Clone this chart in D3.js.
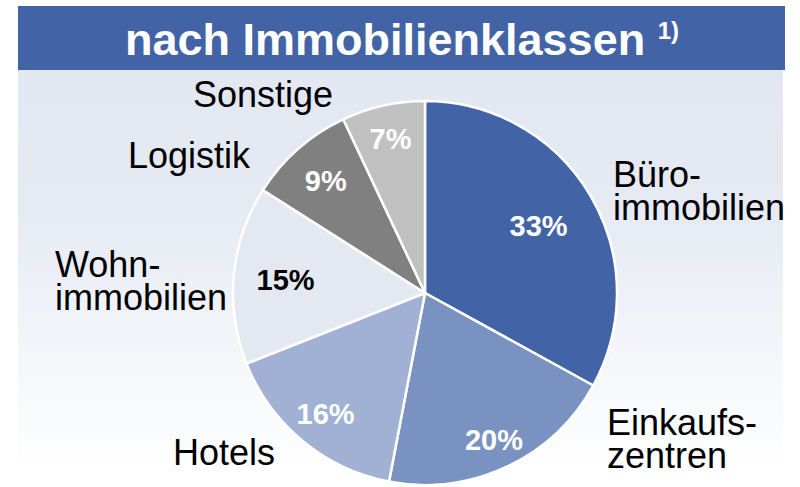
<!DOCTYPE html>
<html><head><meta charset="utf-8">
<script src="https://cdn.jsdelivr.net/npm/d3@7"></script>
<style>
html,body{margin:0;padding:0;background:#fff;}
text{font-family:"Liberation Sans",Arial,sans-serif;}
</style></head>
<body>
<svg id="chart" width="800" height="487"></svg>
<script>
const categories = ["Büroimmobilien","Einkaufszentren","Hotels","Wohnimmobilien","Logistik","Sonstige"];
const labelLines = [["Büro-","immobilien"],["Einkaufs-","zentren"],["Hotels"],["Wohn-","immobilien"],["Logistik"],["Sonstige"]];
const values = [33,20,16,15,9,7];
const colors = ["#4263a6","#7a92c2","#a0b1d3","#e3e8f1","#808080","#c0c0c0"];
const pctColors = ["#fff","#fff","#fff","#000","#fff","#fff"];
const title = "nach Immobilienklassen";
const titleNote = "1)";

const svg = d3.select("#chart");
const cx = 425, cy = 293, R = 192;

// background panel gradient
const defs = svg.append("defs");
const grad = defs.append("linearGradient").attr("id","bg").attr("x1",0).attr("y1",0).attr("x2",0).attr("y2",1);
grad.append("stop").attr("offset","0%").attr("stop-color","#e2e7f1");
grad.append("stop").attr("offset","35%").attr("stop-color","#e6eaf3");
grad.append("stop").attr("offset","100%").attr("stop-color","#ffffff");
svg.append("rect").attr("x",18).attr("y",70).attr("width",765).attr("height",400).attr("fill","url(#bg)");

// title bar
svg.append("rect").attr("x",18).attr("y",6).attr("width",767).attr("height",64).attr("fill","#4263a6");
const t = svg.append("text").attr("x",402).attr("y",55).attr("text-anchor","middle")
  .attr("fill","#fff").attr("font-weight","bold").attr("font-size",45);
t.append("tspan").text(title + " ");
t.append("tspan").attr("font-size",24).attr("dy",-16).text(titleNote);

// pie
const data = categories.map((c,i)=>({cat:c, value:values[i], i}));
const pie = d3.pie().value(d=>d.value).sort(null).startAngle(0).endAngle(2*Math.PI);
const arcs = pie(data);
const arc = d3.arc().innerRadius(0).outerRadius(R);
const g = svg.append("g").attr("transform",`translate(${cx},${cy})`);
g.selectAll("path").data(arcs).join("path")
  .attr("d",arc).attr("fill",d=>colors[d.data.i])
  .attr("stroke","#fff").attr("stroke-width",2.5).attr("stroke-linejoin","round");

// percent labels (radius per slice for placement)
const labelRadius = [132,162,156,140,150,158];
g.selectAll("text.pct").data(arcs).join("text").attr("class","pct")
  .attr("transform",d=>{
    const a = (d.startAngle+d.endAngle)/2, r = labelRadius[d.data.i];
    return `translate(${Math.sin(a)*r},${-Math.cos(a)*r})`;
  })
  .attr("text-anchor","middle").attr("dy","0.36em")
  .attr("font-weight","bold").attr("font-size",29)
  .attr("fill",d=>pctColors[d.data.i])
  .text(d=>d.data.value+"%");

// category labels (offsets from pie centre, first baseline)
const catPos = [[188,-106],[182,142],[-252,172],[-370,-16],[-297,-125],[-232,-186]];
const lineH = 33;
data.forEach((d,i)=>{
  const tx = g.append("text").attr("x",catPos[i][0]).attr("y",catPos[i][1])
    .attr("font-size",36).attr("fill","#000");
  labelLines[i].forEach((ln,j)=>{
    tx.append("tspan").attr("x",catPos[i][0]).attr("dy",j===0?0:lineH).text(ln);
  });
});
</script>
</body></html>
